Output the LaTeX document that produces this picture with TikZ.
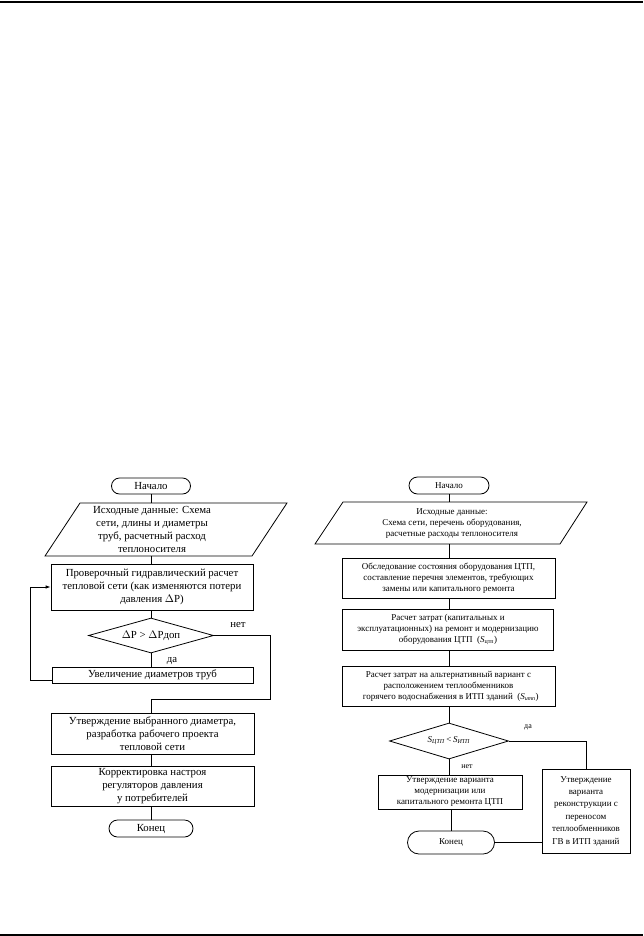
\documentclass[tikz,border=0pt]{standalone}
\usepackage{fontspec}
\setmainfont{Liberation Serif}
\usetikzlibrary{shapes.geometric,arrows.meta,calc}
\begin{document}
\begin{tikzpicture}[x=1pt,y=-1pt,line width=0.8pt,
  lf/.style={font=\fontsize{10.8}{12.8}\selectfont},
  rf/.style={font=\fontsize{9}{11}\selectfont},
  lbl/.style={inner sep=0pt},
  box/.style={draw,rectangle,inner sep=0pt,align=center},
  term/.style={draw,rectangle,inner sep=0pt,align=center},
  txt/.style={inner sep=0pt,align=center},
  dec/.style={draw,diamond,inner sep=0pt,aspect=3.5}]
\useasboundingbox (0,0) rectangle (643,936);
\draw[line width=2pt] (0,1.8) -- (643,1.8);
\draw[line width=2pt] (0,934.5) -- (643,934.5);

% ---------------- left chart ----------------
\node[term,lf,rounded corners=8pt,minimum width=79pt,minimum height=16pt] (s1) at (151,486) {Начало};
\draw (80,503) -- (287,503) -- (252,556) -- (45,556) -- cycle;
\node[txt,lf] (p1) at (152,529.5) {Исходные данные: Схема\\сети, длины и диаметры\\труб, расчетный расход\\теплоносителя};
\coordinate (p1t) at (151,503);
\coordinate (p1b) at (151,556);
\node[box,lf,minimum width=202pt,minimum height=46pt] (b1) at (152,587) {Проверочный гидравлический расчет\\тепловой сети (как изменяются потери\\давления $\Delta$P)};
\node[dec,lf,minimum width=125pt,minimum height=35pt] (d1) at (151,635.5) {$\Delta$P > $\Delta$Pдоп};
\node[lbl,lf] (net1) at (238,625) {нет};
\node[lbl,lf] (da1) at (172,661) {да};
\node[box,lf,minimum width=201pt,minimum height=16pt] (inc) at (152.5,675) {Увеличение диаметров труб};
\node[box,lf,minimum width=203pt,minimum height=41pt] (appr) at (152.5,733.5) {Утверждение выбранного диаметра,\\разработка рабочего проекта\\тепловой сети};
\node[box,lf,minimum width=203pt,minimum height=40pt] (corr) at (152.5,786) {Корректировка настроя\\регуляторов давления\\у потребителей};
\node[term,lf,rounded corners=8.5pt,minimum width=84pt,minimum height=17pt] (e1) at (151,828.5) {Конец};
\coordinate (r1) at (270,699);

\draw (s1) -- (p1t);
\draw (p1b) -- (p1b |- b1.north);
\draw (b1.south -| d1.north) -- (d1.north);
\draw (d1.south) -- (d1.south |- inc.north);
\draw[-{Latex[length=5pt,width=3.5pt]}] ([yshift=-5.5pt]inc.west) -- ++(-21,0) |- (b1.west);
\draw (d1.east) -| (r1) -| (appr.north -| d1.south);
\draw (appr.south -| e1.north) -- (corr.north -| e1.north);
\draw (corr.south -| e1.north) -- (e1.north);

% ---------------- right chart ----------------
\node[term,rf,rounded corners=8.5pt,minimum width=80pt,minimum height=17pt] (s2) at (449,485.5) {Начало};
\draw (343,502) -- (587,502) -- (560,544) -- (315,544) -- cycle;
\node[txt,rf] (p2) at (452,523.5) {Исходные данные:\\Схема сети, перечень оборудования,\\расчетные расходы теплоносителя};
\coordinate (p2t) at (449,502);
\coordinate (p2b) at (449,544);
\node[box,rf,minimum width=213pt,minimum height=40pt] (o1) at (448.5,578) {Обследование состояния оборудования ЦТП,\\составление перечня элементов, требующих\\замены или капитального ремонта};
\node[box,rf,minimum width=211pt,minimum height=41pt] (o2) at (448,629.5) {Расчет затрат (капитальных и\\эксплуатационных) на ремонт и модернизацию\\оборудования ЦТП\ \ (\textit{S}\textsubscript{цтп})};
\node[box,rf,minimum width=213pt,minimum height=40pt] (o3) at (448.5,686) {Расчет затрат на альтернативный вариант с\\расположением теплообменников\\\ \ горячего водоснабжения в ИТП зданий\ \ (\textit{S}\textsubscript{\textit{итп}})};
\node[dec,rf,minimum width=119pt,minimum height=36pt] (d2) at (449,741) {\textit{S}\textsubscript{\textit{ЦТП}}\,<\,\textit{S}\textsubscript{\textit{ИТП}}};
\node[lbl,font=\fontsize{8}{9}\selectfont] (da2) at (528,727) {да};
\node[lbl,font=\fontsize{8}{9}\selectfont] (net2) at (467,767) {нет};
\node[box,rf,minimum width=144pt,minimum height=34pt] (o4) at (450,792) {Утверждение варианта\\модернизации или\\капитального ремонта ЦТП};
\node[box,font=\fontsize{9}{12.4}\selectfont,minimum width=88pt,minimum height=84pt] (rb) at (586,811) {Утверждение\\варианта\\реконструкции с\\переносом\\теплообменников\\ГВ в ИТП зданий};
\node[term,rf,rounded corners=11.5pt,minimum width=87pt,minimum height=23pt] (e2) at (451,842.5) {Конец};

\draw (s2) -- (p2t);
\draw (p2b) -- (p2b |- o1.north);
\draw (o1.south -| p2b) -- (o2.north -| p2b);
\draw (o2.south -| p2b) -- (o3.north -| p2b);
\draw (o3.south -| d2.north) -- (d2.north);
\draw (d2.south) -- (d2.south |- o4.north);
\draw (d2.east) -| (rb.north);
\draw (o4.south -| e2.north) -- (e2.north);
\draw (e2.east) -- (e2.east -| rb.west);
\end{tikzpicture}
\end{document}
